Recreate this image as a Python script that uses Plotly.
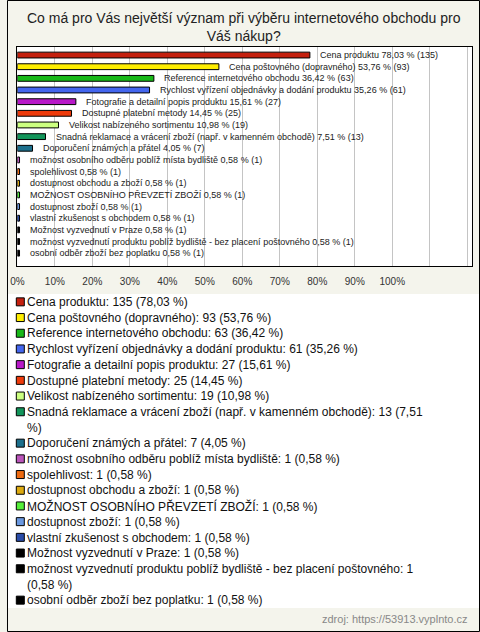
import textwrap
import plotly.graph_objects as go

title = "Co má pro Vás největší význam při výběru internetového obchodu pro<br>Váš nákup?"
categories = [
    "Cena produktu",
    "Cena poštovného (dopravného)",
    "Reference internetového obchodu",
    "Rychlost vyřízení objednávky a dodání produktu",
    "Fotografie a detailní popis produktu",
    "Dostupné platební metody",
    "Velikost nabízeného sortimentu",
    "Snadná reklamace a vrácení zboží (např. v kamenném obchodě)",
    "Doporučení známých a přátel",
    "možnost osobního odběru poblíž místa bydliště",
    "spolehlivost",
    "dostupnost obchodu a zboží",
    "MOŽNOST OSOBNÍHO PŘEVZETÍ ZBOŽÍ",
    "dostupnost zboží",
    "vlastní zkušenost s obchodem",
    "Možnost vyzvednutí v Praze",
    "možnost vyzvednutí produktu poblíž bydliště - bez placení poštovného",
    "osobní odběr zboží bez poplatku",
]
counts = [135, 93, 63, 61, 27, 25, 19, 13, 7, 1, 1, 1, 1, 1, 1, 1, 1, 1]
percents = [78.03, 53.76, 36.42, 35.26, 15.61, 14.45, 10.98, 7.51, 4.05,
            0.58, 0.58, 0.58, 0.58, 0.58, 0.58, 0.58, 0.58, 0.58]
colors = ["#c4200e", "#ffee00", "#18b818", "#4466ee", "#b818c8", "#ee3a0a",
          "#ccff80", "#12955a", "#1c6f8c", "#bb55bb", "#ee6a10", "#ddaa10",
          "#55ee3a", "#6a98e0", "#2a4ca8", "#000000", "#000000", "#000000"]
tick_vals = [0, 10, 20, 30, 40, 50, 60, 70, 80, 90, 100, 110, 120]
tick_text = ["0%", "10%", "20%", "30%", "40%", "50%", "60%", "70%", "80%",
             "90%", "100%", "", ""]
source = "zdroj: https://53913.vyplnto.cz"

W, H = 480, 632
BG = "#f4f4ec"
FONT = "Liberation Sans, Arial, sans-serif"


def pct(v):
    return f"{v:.2f}".replace(".", ",")


rows = list(range(len(categories)))

fig = go.Figure()

# bars
fig.add_trace(go.Bar(
    x=percents, y=rows, orientation="h",
    marker=dict(color=colors, line=dict(color="#000000", width=1)),
    width=0.5, showlegend=False, hoverinfo="skip",
    xaxis="x", yaxis="y",
))

# bar labels
for i, (c, n, p) in enumerate(zip(categories, counts, percents)):
    fig.add_annotation(
        x=p, y=i, xref="x", yref="y", xanchor="left", yanchor="middle",
        xshift=8, showarrow=False,
        text=f"{c} {pct(p)} % ({n})",
        font=dict(family=FONT, size=9, color="#222222"),
    )

# legend block (drawn on its own axes, one line unit per text line)
legend_lines = []
for c, n, p in zip(categories, counts, percents):
    legend_lines.append(textwrap.wrap(f"{c}: {n} ({pct(p)} %)", width=71))
first_line = []
k = 0
for ln in legend_lines:
    first_line.append(k)
    k += len(ln)
total_lines = k

fig.add_trace(go.Scatter(
    x=[13.5] * len(categories), y=first_line, mode="markers",
    marker=dict(symbol="square", size=8, color=colors,
                line=dict(color="#000000", width=1)),
    showlegend=False, hoverinfo="skip", xaxis="x2", yaxis="y2",
))
for ln, y0 in zip(legend_lines, first_line):
    fig.add_annotation(
        x=19.5, y=y0 - 0.5, xref="x2", yref="y2", xanchor="left",
        yanchor="top", align="left", showarrow=False,
        text="<br>".join(ln), borderpad=0,
        font=dict(family=FONT, size=12, color="#111111"),
    )

line_px = 15.7
leg_top = 294
leg_bottom = leg_top + total_lines * line_px

fig.update_layout(
    width=W, height=H,
    margin=dict(l=0, r=0, t=0, b=0),
    paper_bgcolor=BG, plot_bgcolor="#ffffff",
    font=dict(family=FONT, color="#222222"),
    xaxis=dict(
        domain=[10.5 / W, 472 / W], range=[0, 121.3],
        tickvals=tick_vals, ticktext=tick_text,
        showgrid=True, gridcolor="#c4c4c4", gridwidth=1,
        zeroline=False, showline=True, linecolor="#000000", linewidth=1,
        mirror=True, ticks="", ticklabelstandoff=6,
        tickfont=dict(family=FONT, size=10, color="#333333"),
        fixedrange=True,
    ),
    yaxis=dict(
        domain=[1 - 266 / H, 1 - 47 / H], range=[18.1, -0.69],
        showticklabels=False, showgrid=False, zeroline=False,
        showline=True, linecolor="#000000", linewidth=1, mirror=True,
        ticks="", fixedrange=True,
    ),
    xaxis2=dict(domain=[0, 1], range=[0, W], visible=False, fixedrange=True),
    yaxis2=dict(domain=[1 - leg_bottom / H, 1 - leg_top / H],
                range=[total_lines - 0.5, -0.5], visible=False, fixedrange=True),
    bargap=0.5,
)

fig.add_annotation(
    x=0.5, y=1 - 8 / H, xref="paper", yref="paper", xanchor="center",
    yanchor="top", showarrow=False, text=title,
    font=dict(family=FONT, size=14, color="#222222"),
)
fig.add_annotation(
    x=470 / W, y=1 - 619 / H, xref="paper", yref="paper", xanchor="right",
    yanchor="middle", showarrow=False, text=source,
    font=dict(family=FONT, size=11, color="#888888"),
)
fig.add_shape(
    type="rect", xref="paper", yref="paper",
    x0=0.5 / W, x1=1 - 0.5 / W, y0=0.5 / H, y1=1 - 0.5 / H,
    line=dict(color="#000000", width=1), fillcolor="rgba(0,0,0,0)",
    layer="above",
)

fig.write_html(
    "out.html",
    config={"displayModeBar": False},
    post_script="document.body.style.margin='0';document.body.style.padding='0';",
)
